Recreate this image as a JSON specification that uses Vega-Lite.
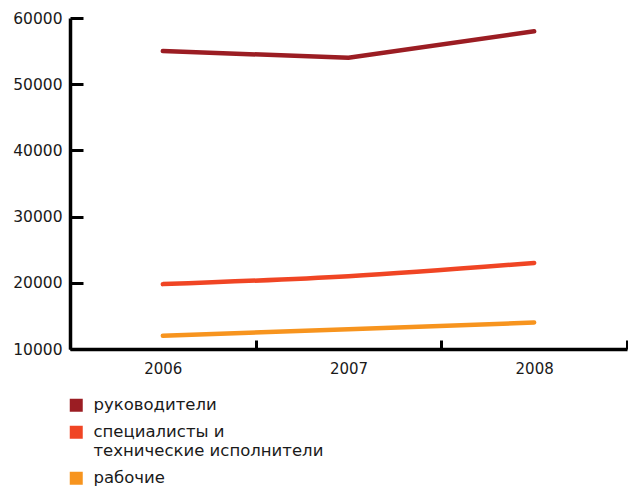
{
  "$schema": "https://vega.github.io/schema/vega-lite/v6.json",
  "autosize": {"type": "none"},
  "padding": {"left": 70, "top": 18, "right": 1, "bottom": 137},
  "width": 557,
  "height": 331,
  "background": "white",
  "config": {
    "view": {"stroke": null},
    "font": "DejaVu Sans",
    "axis": {"grid": false, "domainColor": "black", "domainWidth": 3.5, "tickColor": "black", "tickWidth": 3, "labelColor": "#1a1a1a", "labelFont": "DejaVu Sans"}
  },
  "data": {
    "values": [
      {"year": "2006", "group": "руководители", "value": 55000},
      {"year": "2007", "group": "руководители", "value": 54000},
      {"year": "2008", "group": "руководители", "value": 58000},
      {"year": "2006", "group": "специалисты и|технические исполнители", "value": 19800},
      {"year": "2007", "group": "специалисты и|технические исполнители", "value": 21000},
      {"year": "2008", "group": "специалисты и|технические исполнители", "value": 23000},
      {"year": "2006", "group": "рабочие", "value": 12000},
      {"year": "2007", "group": "рабочие", "value": 13000},
      {"year": "2008", "group": "рабочие", "value": 14000}
    ]
  },
  "encoding": {
    "x": {
      "field": "year", "type": "ordinal", "title": null,
      "scale": {"paddingInner": 0, "paddingOuter": 0},
      "axis": {"labelAngle": 0, "tickBand": "extent", "tickSize": -9, "labelPadding": 21, "labelFontSize": 15, "zindex": 1}
    },
    "y": {
      "field": "value", "type": "quantitative", "title": null,
      "scale": {"domain": [10000, 60000], "nice": false, "zero": false},
      "axis": {"values": [10000, 20000, 30000, 40000, 50000, 60000], "format": "d", "domainWidth": 3.5, "domainColor": "black", "tickWidth": 3, "tickColor": "black", "tickSize": -13, "labelPadding": 21, "labelFontSize": 15.5, "zindex": 1}
    },
    "color": {
      "field": "group", "type": "nominal",
      "scale": {"domain": ["руководители", "специалисты и|технические исполнители", "рабочие"], "range": ["#9b1d23", "#f04524", "#f7941e"]},
      "legend": {
        "title": null, "orient": "none", "legendX": -2, "legendY": 379, "direction": "vertical",
        "symbolType": "square", "symbolSize": 169, "symbolStrokeWidth": 0,
        "labelFontSize": 16.5, "labelFont": "DejaVu Sans", "labelColor": "#1a1a1a", "labelExpr": "split(datum.label, '|')", "labelLimit": 400,
        "labelBaseline": "middle", "rowPadding": 10, "labelOffset": 9,
        "encode": {"symbols": {"update": {"fill": {"scale": "color", "field": "value"}, "fillOpacity": {"value": 1}}}}
      }
    }
  },
  "layer": [
    {
      "transform": [{"filter": "datum.group === 'руководители'"}],
      "mark": {"type": "line", "strokeWidth": 4.5, "strokeCap": "round", "interpolate": "linear"}
    },
    {
      "transform": [{"filter": "datum.group !== 'руководители'"}],
      "mark": {"type": "line", "strokeWidth": 4.5, "strokeCap": "round", "interpolate": "monotone"}
    }
  ]
}
